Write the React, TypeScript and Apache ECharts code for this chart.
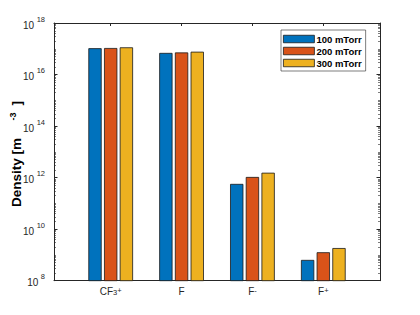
import React, { useEffect, useRef } from "react";
import * as echarts from "echarts";

const categories = ["CF3+", "F", "F-", "F+"];
const categoryPositions = [1, 2, 3, 4];
const seriesNames = ["100 mTorr", "200 mTorr", "300 mTorr"];
const density100 = [1.05e17, 6.9e16, 5.7e11, 6.4e8];
const density200 = [1.07e17, 7.2e16, 1.06e12, 1.27e9];
const density300 = [1.14e17, 7.7e16, 1.55e12, 1.85e9];
const majorTicks = [1e8, 1e10, 1e12, 1e14, 1e16, 1e18];
const minorTicks: number[] = [];
for (let n = 8; n < 18; n++) {
  for (let m = 1; m <= 9; m++) {
    if (m === 1 && n % 2 === 0) continue;
    minorTicks.push(m * Math.pow(10, n));
  }
}
const colors = ["#0072BD", "#D95319", "#EDB120"];
const yTitleMain = "Density [m";
const yTitleSup = "-3";
const yTitleEnd = "]";

const xLabelText: Record<string, string> = {
  "CF3+": "CF{sb|3}{sp|+}",
  F: "F",
  "F-": "F{sp|-}",
  "F+": "F{sp|+}",
};

export default function App() {
  const ref = useRef<HTMLDivElement>(null);
  useEffect(() => {
    const chart = echarts.init(ref.current!, null, { renderer: "svg" });
    const axisColor = "#262626";
    const font = "Liberation Sans, Arial, sans-serif";
    const yBase = {
      type: "log" as const,
      logBase: 10,
      min: 1e8,
      max: 1.00001e18,
      gridIndex: 0,
      splitLine: { show: false },
    };
    const xBase = {
      type: "value" as const,
      min: 0.2,
      max: 4.8,
      splitLine: { show: false },
    };
    const series = [density100, density200, density300].map((d, i) => ({
      name: seriesNames[i],
      type: "bar",
      xAxisIndex: 0,
      yAxisIndex: 0,
      barWidth: 13.3,
      barGap: "18%",
      data: d.map((v, j) => [categoryPositions[j], v]),
      itemStyle: { color: colors[i], borderColor: "#1a1a1a", borderWidth: 0.8 },
    }));
    const titleStyle = {
      fill: "#000",
      fontSize: 13.5,
      fontWeight: "bold",
      fontFamily: font,
      textAlign: "left",
      textVerticalAlign: "middle",
      align: "left",
      verticalAlign: "middle",
    };
    chart.setOption({
      animation: false,
      backgroundColor: "#fff",
      grid: { left: 54, top: 23, width: 326, height: 257.7, containLabel: false, outerBoundsMode: "none" },
      graphic: [
        { type: "text", x: 16.5, y: 207, rotation: Math.PI / 2, style: { ...titleStyle, text: yTitleMain } },
        { type: "text", x: 13, y: 120.5, rotation: Math.PI / 2, style: { ...titleStyle, fontSize: 9, text: yTitleSup } },
        { type: "text", x: 16.5, y: 105.5, rotation: Math.PI / 2, style: { ...titleStyle, text: yTitleEnd } },
      ],
      legend: {
        data: seriesNames,
        orient: "vertical",
        left: 281,
        top: 30,
        padding: [4, 4, 3, 2],
        itemWidth: 31,
        itemHeight: 7.5,
        itemGap: 2,
        icon: "rect",
        itemStyle: { borderWidth: 0.8, borderColor: "#1a1a1a" },
        borderColor: axisColor,
        borderWidth: 0.6,
        backgroundColor: "#fff",
        textStyle: { fontSize: 9.5, fontWeight: "bold", color: "#000", fontFamily: font, padding: [0, 0, 0, -3] },
      },
      xAxis: [
        {
          ...xBase,
          position: "bottom",
          axisLine: { show: true, lineStyle: { color: axisColor, width: 1 } },
          axisTick: { show: true, inside: true, length: 3, customValues: categoryPositions, lineStyle: { color: axisColor } },
          axisLabel: {
            show: true,
            margin: 6,
            customValues: categoryPositions,
            formatter: (v: number) => xLabelText[categories[Math.round(v) - 1]] || "",
            color: axisColor,
            fontSize: 10,
            fontFamily: font,
            rich: {
              sb: { fontSize: 7.5, color: axisColor, fontFamily: font, verticalAlign: "bottom", lineHeight: 8, padding: [8, 0, 0, 0] },
              sp: { fontSize: 7.5, color: axisColor, fontFamily: font, verticalAlign: "top", lineHeight: 8 },
            },
          },
        },
        {
          ...xBase,
          position: "top",
          axisLine: { show: true, lineStyle: { color: axisColor, width: 1 } },
          axisTick: { show: true, inside: true, length: 3, customValues: categoryPositions, lineStyle: { color: axisColor } },
          axisLabel: { show: false },
        },
      ],
      yAxis: [
        {
          ...yBase,
          position: "left",
          axisLine: { show: true, lineStyle: { color: axisColor, width: 1 } },
          axisTick: { show: true, inside: true, length: 3.5, customValues: majorTicks, lineStyle: { color: axisColor } },
          axisLabel: {
            show: true,
            margin: 9,
            showMaxLabel: true,
            showMinLabel: true,
            hideOverlap: false,
            customValues: majorTicks,
            formatter: (v: number) => `{b|10}{e|${Math.round(Math.log10(v))}}`,
            rich: {
              b: { fontSize: 10, color: axisColor, fontFamily: font, lineHeight: 16, verticalAlign: "middle", padding: [4, 2.5, 0, 0] },
              e: { fontSize: 7.5, color: axisColor, fontFamily: font, lineHeight: 8, verticalAlign: "top" },
            },
          },
        },
        {
          ...yBase,
          position: "left",
          axisLine: { show: false },
          axisTick: { show: true, inside: true, length: 2, customValues: minorTicks, lineStyle: { color: axisColor, width: 0.6 } },
          axisLabel: { show: false },
        },
        {
          ...yBase,
          position: "right",
          axisLine: { show: true, lineStyle: { color: axisColor, width: 1 } },
          axisTick: { show: true, inside: true, length: 3.5, customValues: majorTicks, lineStyle: { color: axisColor } },
          axisLabel: { show: false },
        },
        {
          ...yBase,
          position: "right",
          axisLine: { show: false },
          axisTick: { show: true, inside: true, length: 2, customValues: minorTicks, lineStyle: { color: axisColor, width: 0.6 } },
          axisLabel: { show: false },
        },
      ],
      series,
    });
    return () => chart.dispose();
  }, []);
  return <div ref={ref} style={{ position: "fixed", left: 0, top: 0, width: 420, height: 315 }} />;
}
